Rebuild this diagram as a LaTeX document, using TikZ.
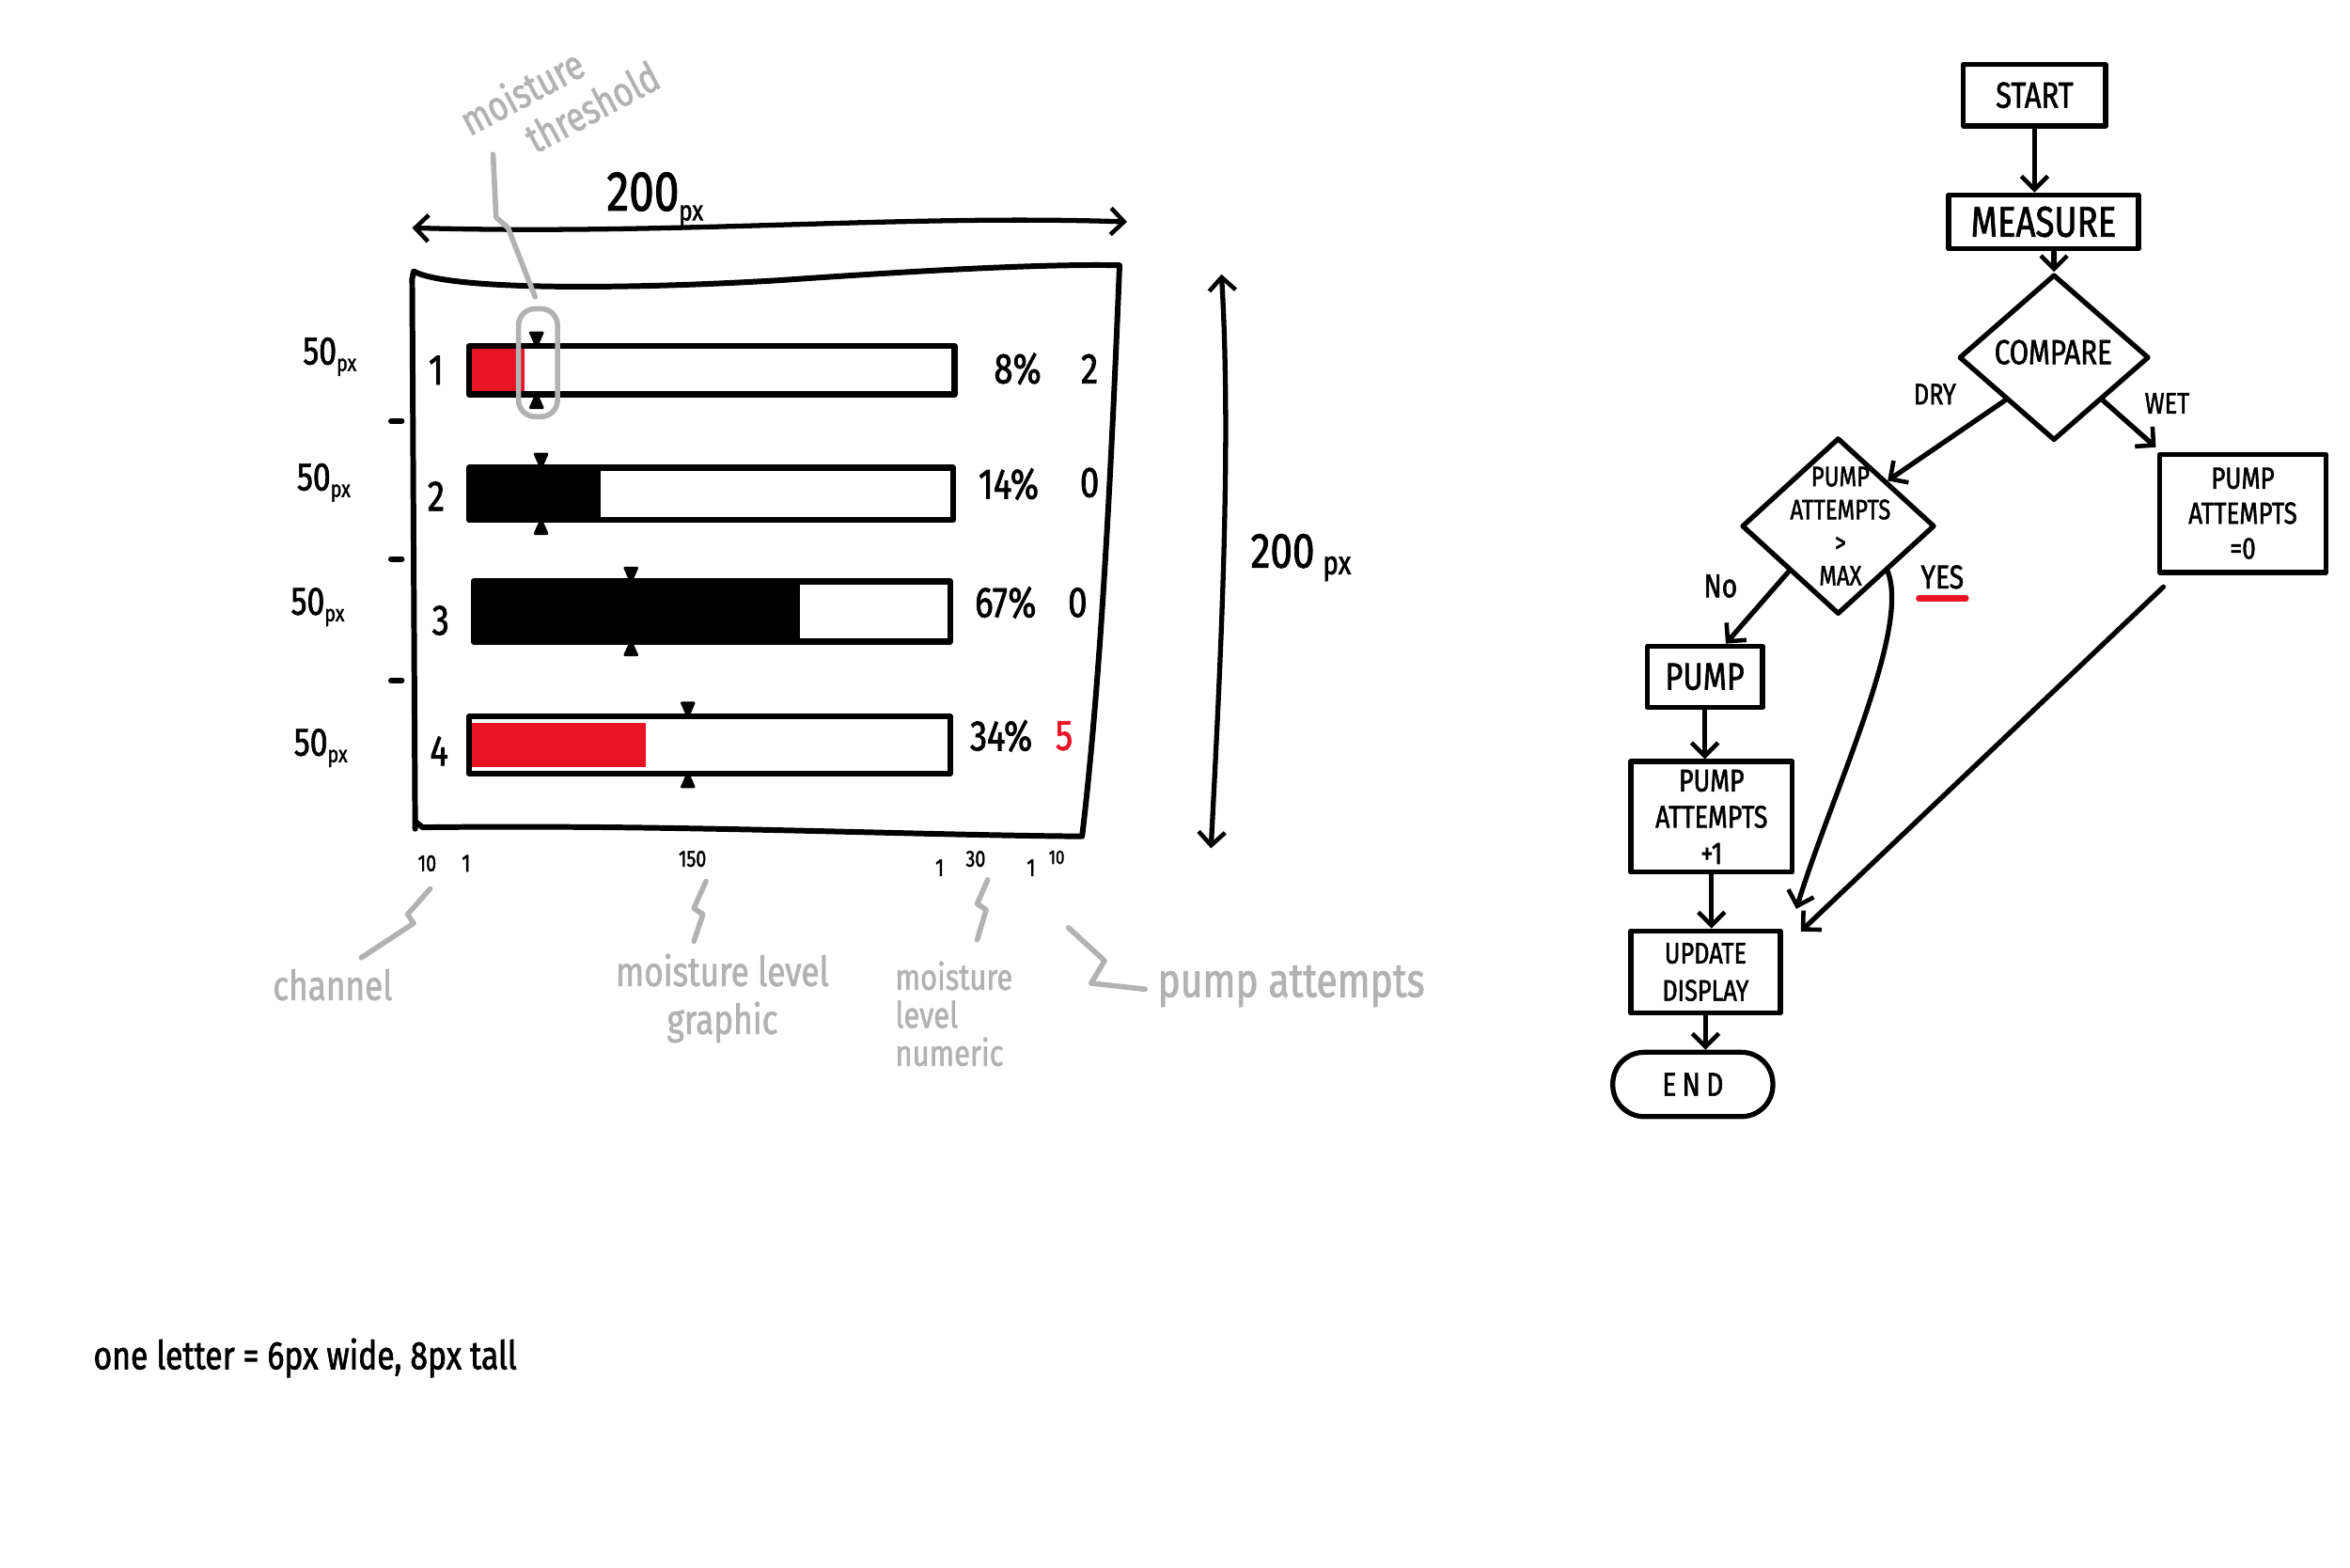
\documentclass[tikz,border=0pt]{standalone}
\usepackage{fontspec}
\setmainfont{Fira Sans}
\newfontfamily\hand[FakeStretch=0.8,FakeBold=1.6]{Fira Sans}
\newfontfamily\handsp[FakeStretch=0.8,FakeBold=1.6,LetterSpace=18]{Fira Sans}
\usetikzlibrary{shapes.geometric,arrows.meta,calc}
\definecolor{sk}{RGB}{178,178,178}
\definecolor{skred}{RGB}{232,20,38}
\begin{document}
\begin{tikzpicture}[x=0.015944cm,y=-0.015944cm,
  ln/.style={line width=1.5pt,line cap=round,line join=round},
  tip/.style={-{Straight Barb[length=4pt,width=8pt,line width=1.3pt]}},
  arr/.style={ln,tip},
  wh/.style 2 args={minimum width={#1*0.45274pt},minimum height={#2*0.45274pt}},
  fbox/.style={draw,ln,rectangle,inner sep=0pt,align=center},
  fdia/.style={draw,ln,diamond,inner sep=0pt},
  fsz/.style 2 args={font={\hand\fontsize{#1}{#2}\selectfont}},
  gl/.style={draw=sk,line width=1.6pt,line cap=round,line join=round},
  gt/.style={text=sk,inner sep=0pt,align=center},
  bt/.style={inner sep=0pt,align=center},
  bar/.style={draw,line width=1.8pt,line join=round},
  mk/.style={fill=black,draw=black,line width=0.8pt,line join=round},
]
\useasboundingbox (0,0) rectangle (1568,1046);

% ---------------- left wireframe ----------------
% top dimension arrow
\coordinate (hl) at (275,152);
\coordinate (hr) at (752,148);
\draw[ln,{Straight Barb[length=4pt,width=8pt,line width=1.3pt]}-{Straight Barb[length=4pt,width=8pt,line width=1.3pt]}]
  (hl) .. controls (450,157) and (600,143) .. (hr);
\node[bt] (w200) at (437,133) {{\hand\fontsize{17}{17}\selectfont 200}{\hand\fontsize{8.5}{8.5}\selectfont\raisebox{-3pt}{px}}};

% right dimension arrow
\coordinate (vt) at (815,183);
\coordinate (vb) at (808,566);
\draw[ln,{Straight Barb[length=4pt,width=8pt,line width=1.3pt]}-{Straight Barb[length=4pt,width=8pt,line width=1.3pt]}]
  (vt) .. controls (822,300) and (814,450) .. (vb);
\node[bt] (h200) at (868,372) {{\hand\fontsize{15}{15}\selectfont 200\,}{\hand\fontsize{10}{10}\selectfont\raisebox{-2pt}{px}}};

% frame
\draw[ln,line width=1.7pt]
  (277,553) -- (275,186) -- (276,181)
  .. controls (300,194) and (420,193) .. (520,187)
  .. controls (620,180) and (700,176) .. (747,177)
  .. controls (742,300) and (735,450) .. (722,558)
  .. controls (600,557) and (450,550) .. (282,552) -- (277,548);

% bars
\fill[skred] (314,232) rectangle (350,262);
\draw[bar] (313,231) rectangle (637,263);
\fill[black] (313,313) rectangle (401,347);
\draw[bar] (313,312) rectangle (636,347);
\fill[black] (316,390) rectangle (534,428);
\draw[bar] (316,388) rectangle (634,428);
\fill[skred] (314,482) rectangle (431,512);
\draw[bar] (313,478) rectangle (634,516);

% threshold markers
\foreach \mx/\ta/\tb in {358/231/263, 361/312/347, 421/388/428, 459/478/516}{
  \draw[mk] (\mx-4,\ta-9) -- (\mx+4,\ta-9) -- (\mx,\ta) -- cycle;
  \draw[mk] (\mx-4,\tb+9) -- (\mx+4,\tb+9) -- (\mx,\tb) -- cycle;
}

% threshold highlight
\draw[gl,rounded corners=5pt] (346,206) rectangle (372,278);
\draw[gl] (329,103) -- (331,145) -- (339,152) -- (357,198);
\node[gt,fsz={12.5}{14},rotate=28,align=left] (mth) at (373,65) {moisture\\\hspace*{15pt}threshold};

% row labels
\node[bt,fsz={13}{13}] (c1) at (291,247) {1};
\node[bt,fsz={13}{13}] (c2) at (291,331) {2};
\node[bt,fsz={13}{13}] (c3) at (294,414) {3};
\node[bt,fsz={13}{13}] (c4) at (293,501) {4};

\node[bt,fsz={13}{13}] (v1) at (679,246) {8\%};
\node[bt,fsz={13}{13}] (v2) at (673,323) {14\%};
\node[bt,fsz={13}{13}] (v3) at (671,402) {67\%};
\node[bt,fsz={13}{13}] (v4) at (668,491) {34\%};
\node[bt,fsz={13}{13}] (n1) at (727,246) {2};
\node[bt,fsz={13}{13}] (n2) at (727,322) {0};
\node[bt,fsz={13}{13}] (n3) at (719,402) {0};
\node[bt,fsz={13}{13},text=skred] (n4) at (710,491) {5};

% 50px labels
\foreach \nm/\px/\py in {pa/220/238, pb/216/322, pc/212/405, pd/214/499}{
  \node[bt] (\nm) at (\px,\py) {{\hand\fontsize{12}{12}\selectfont 50}{\hand\fontsize{7}{7}\selectfont\raisebox{-2pt}{px}}};
}
\foreach \dy in {281,373,454}{
  \draw[ln,line width=1.8pt] (261,\dy) -- (268,\dy);
}

% axis small labels
\node[bt,fsz={7}{7}] (ax1) at (285,576) {10};
\node[bt,fsz={7.5}{7.5}] (ax2) at (311,576) {1};
\node[bt,fsz={7}{7}] (ax3) at (462,573) {150};
\node[bt,fsz={7.5}{7.5}] (ax4) at (627,579) {1};
\node[bt,fsz={7}{7}] (ax5) at (651,573) {30};
\node[bt,fsz={7.5}{7.5}] (ax6) at (688,579) {1};
\node[bt,fsz={6}{6}] (ax7) at (705,572) {10};

% gray leaders and labels
\draw[gl] (287,593) -- (272,610) -- (276,616) -- (241,639);
\node[gt,fsz={12.5}{13}] (lch) at (222,657) {channel};
\draw[gl] (471,588) -- (463,606) -- (469,610) -- (463,628);
\node[gt,fsz={12.5}{14.5}] (lgr) at (482,666) {moisture level\\graphic};
\draw[gl] (659,587) -- (652,603) -- (658,607) -- (652,627);
\node[gt,fsz={11}{11.5},align=left,anchor=north west] (lnu) at (597,641) {moisture\\level\\numeric};
\draw[gl] (713,619) -- (737,641) -- (728,656) -- (764,660);
\node[gt,fsz={14.5}{15},anchor=west] (lpa) at (772,658) {pump attempts};

% bottom note
\node[bt,fsz={12}{12},anchor=west] (note) at (62,906) {one letter = 6px wide, 8px tall};

% ---------------- flowchart ----------------
\node[fbox,wh={95}{41},fsz={11}{13}] (start) at (1357.5,63.5) {START};
\node[fbox,wh={127}{36},fsz={13}{15}] (measure) at (1363.5,148) {MEASURE};
\node[fdia,wh={127}{111}] (compare) at (1370.5,238.5) {};
\node[bt,fsz={10.5}{12}] (comparet) at (1370,235) {COMPARE};
\node[fdia,wh={129}{118}] (d2) at (1226.5,351) {};
\node[bt,fsz={8.5}{10}] (d2t) at (1228,351) {PUMP\\ATTEMPTS\\>\\MAX};
\node[fbox,wh={111}{79},fsz={9.2}{10.6}] (pa0) at (1496.5,342.5) {PUMP\\ATTEMPTS\\=0};
\node[fbox,wh={77}{41},fsz={11.5}{13}] (pump) at (1137.5,451.5) {PUMP};
\node[fbox,wh={108}{74},fsz={9.5}{11}] (pap1) at (1142,545) {PUMP\\ATTEMPTS\\+1};
\node[fbox,wh={100}{55},fsz={9}{11.3}] (upd) at (1138,648.5) {UPDATE\\DISPLAY};
\node[fbox,wh={107}{43},rounded corners=9.5pt,font={\handsp\fontsize{10}{12}\selectfont}] (end) at (1129.5,723.5) {END};

\node[bt,fsz={9}{10}] (dry) at (1291,263) {DRY};
\node[bt,fsz={9}{10}] (wet) at (1446,269) {WET};
\node[bt,fsz={10}{11}] (no) at (1148,391) {No};
\node[bt,fsz={10}{11}] (yes) at (1296,385) {YES};
\draw[draw=skred,line width=1.8pt,line cap=round] ($(yes.south west)+(-1,6)$) -- ($(yes.south east)+(1,6)$);

\draw[arr] (start.south) -- (start.south |- measure.north);
\draw[arr] (measure.south -| compare.north) -- (compare.north);
\draw[arr] (compare.south west) -- (d2.north east);
\draw[arr] (compare.south east) -- ($(pa0.north west)+(-1,-3)$);
\draw[arr] (d2.south west) -- ($(pump.north)+(14,0)$);
\draw[arr] (pump.south) -- (pump.south |- pap1.north);
\draw[arr] (pap1.south) -- (pap1.south |- upd.north);
\draw[arr] (upd.south) -- (upd.south |- end.north);
\draw[arr] (d2.south east) .. controls (1275,420) and (1222,530) .. ($(upd.north east)+(9,-13)$);
\draw[arr] ($(pa0.south west)+(4,8)$) -- ($(upd.north east)+(12,2)$);
\end{tikzpicture}
\end{document}
